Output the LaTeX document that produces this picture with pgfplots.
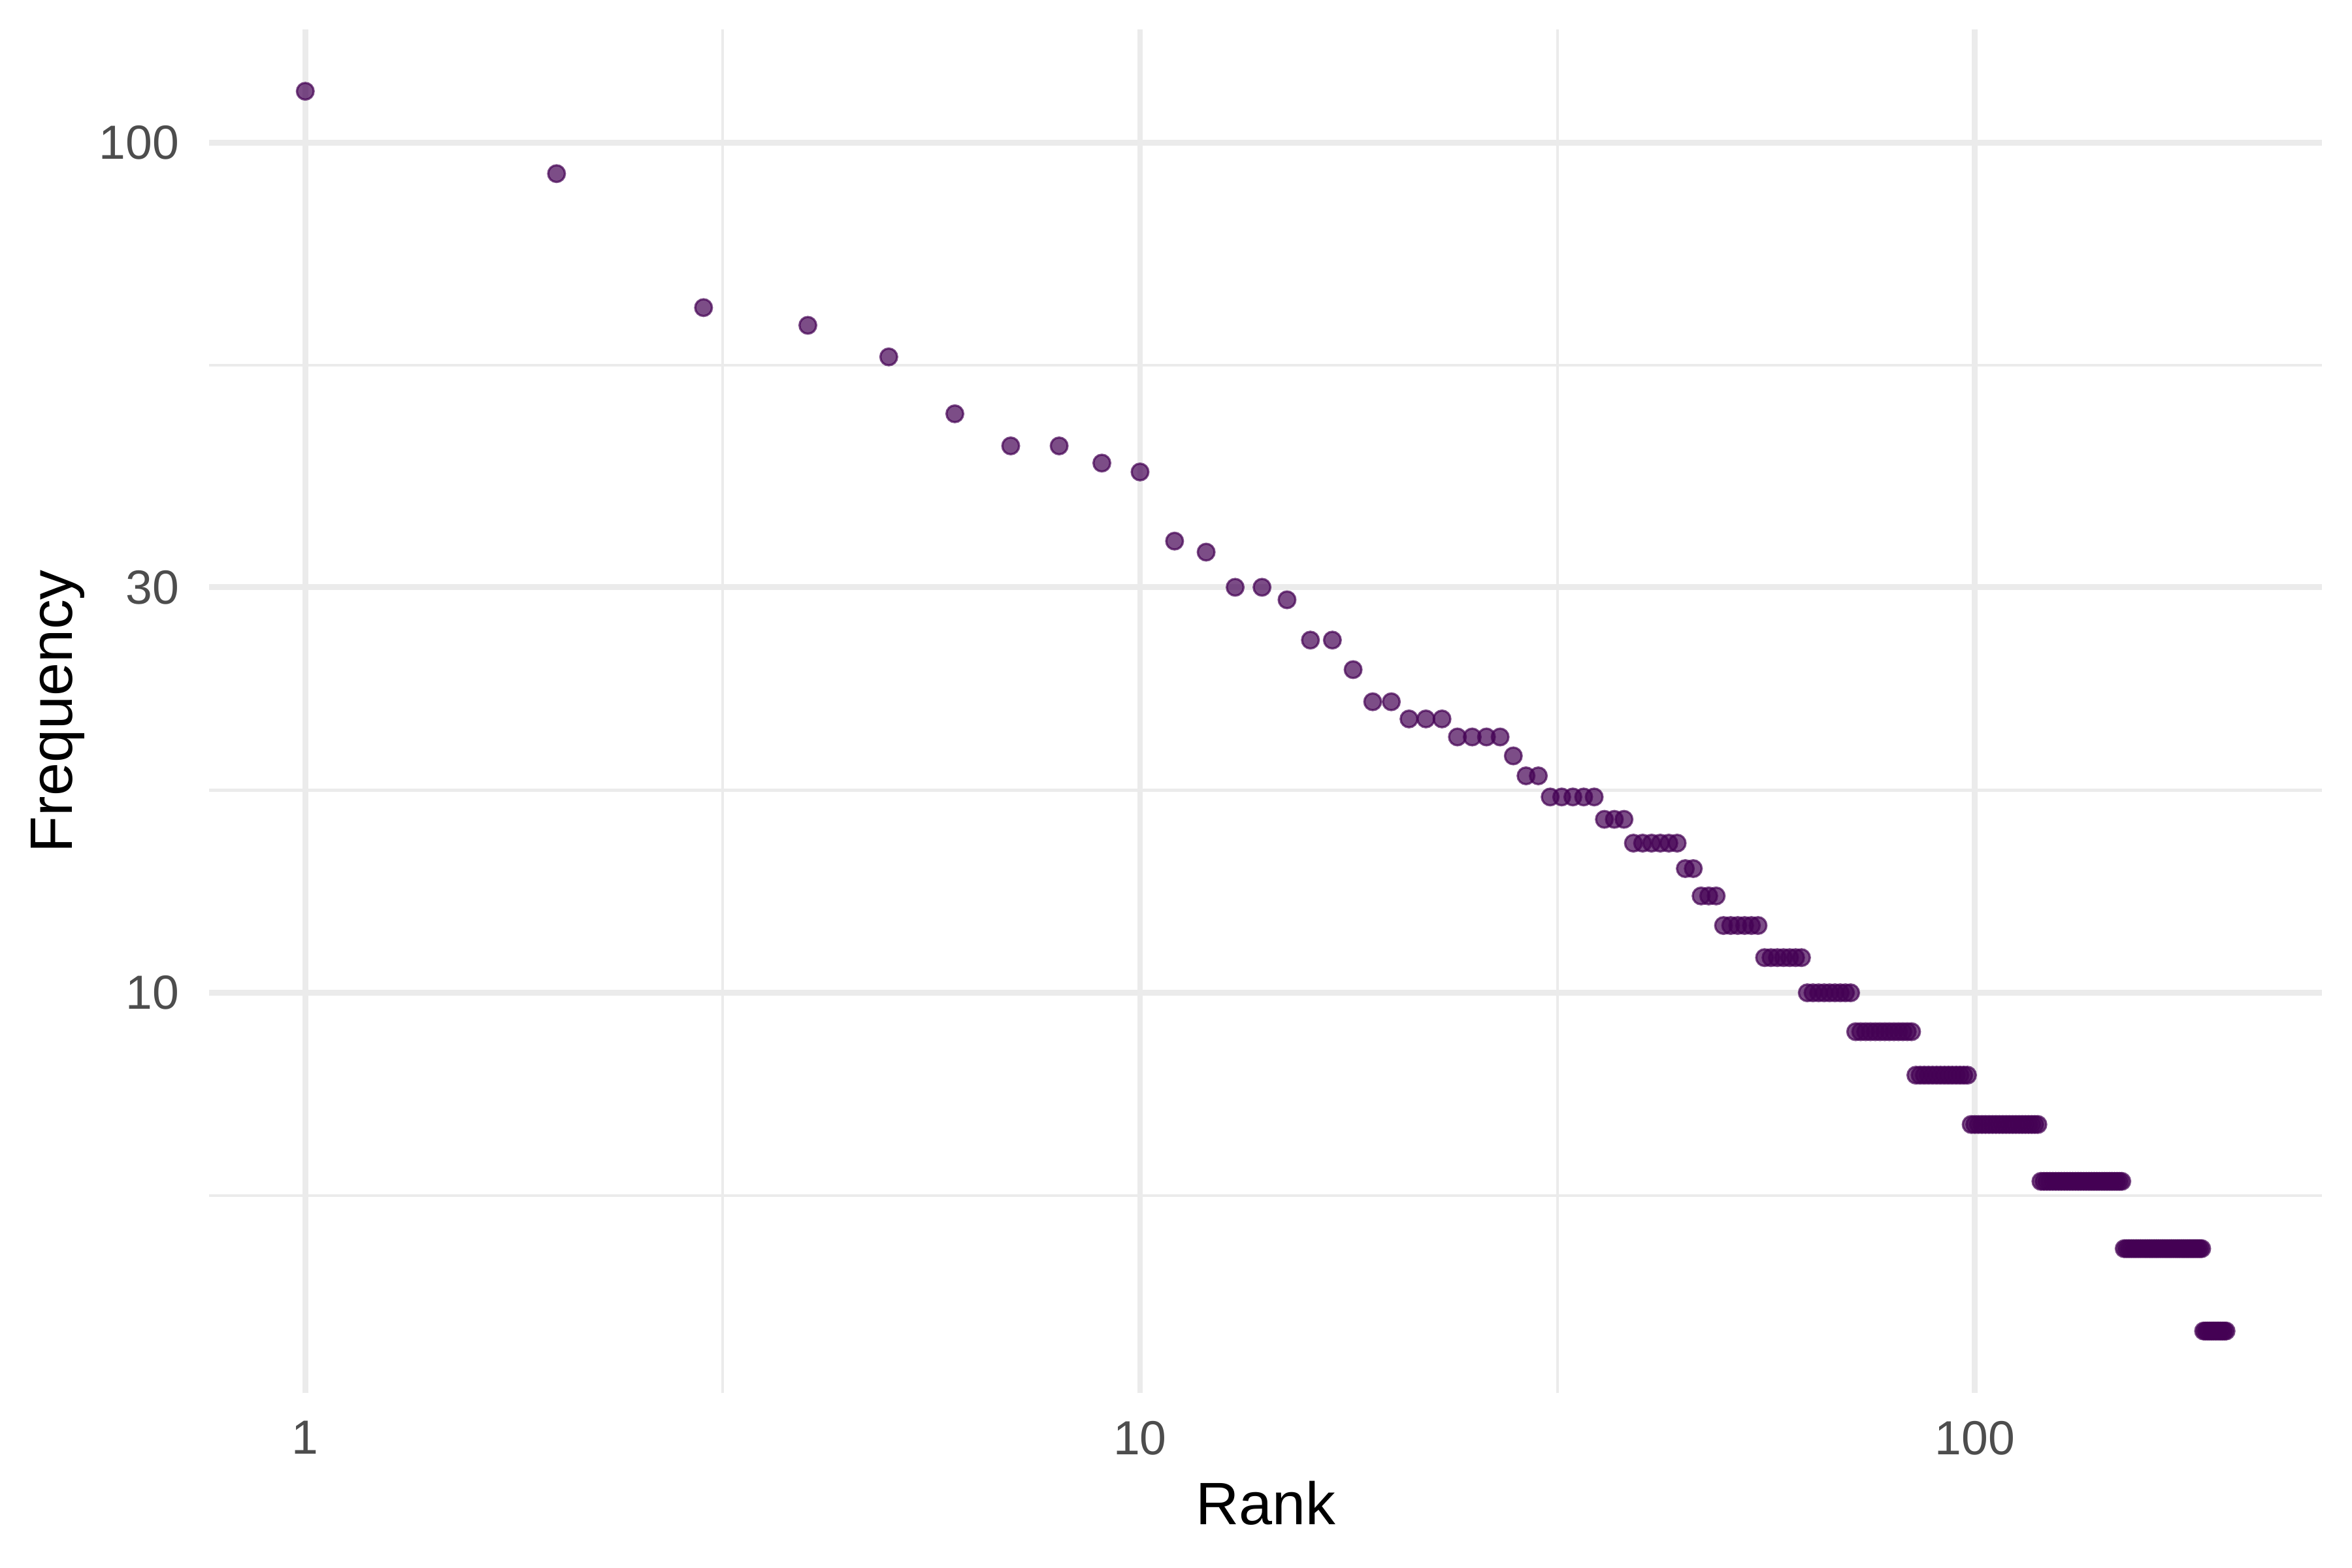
\documentclass[border=0pt]{standalone}
\usepackage{fontspec}
\setmainfont{Liberation Sans}
\usepackage{pgfplots}
\pgfplotsset{compat=1.18}

\definecolor{pointcol}{HTML}{440154}
\definecolor{gridcol}{HTML}{EBEBEB}
\definecolor{tickcol}{HTML}{4D4D4D}

\begin{document}
\begin{tikzpicture}
\useasboundingbox (0,0) rectangle (432pt,288pt);
\begin{axis}[
    at={(38.4pt,32.1pt)}, anchor=south west,
    scale only axis,
    width=388.1pt, height=250.5pt,
    xmode=log, ymode=log,
    xmin=0.767, xmax=260.6,
    ymin=3.38, ymax=136,
    xtick={1,10,100}, xticklabels={1,10,100},
    ytick={10,30,100}, yticklabels={10,30,100},
    minor xtick={3.162,31.62},
    minor ytick={5.774,17.32,54.77},
    grid=both,
    major grid style={draw=gridcol, line width=1.07pt},
    minor grid style={draw=gridcol, line width=0.53pt},
    axis line style={draw=none},
    tick style={draw=none},
    /pgf/number format/assume math mode=true,
    ticklabel style={font=\fontsize{8.8}{10}\selectfont, text=tickcol, inner sep=0pt},
    xticklabel style={anchor=north, yshift=-4.9pt},
    yticklabel style={anchor=east, xshift=-5.3pt},
    xlabel={Rank}, ylabel={Frequency},
    label style={font=\fontsize{11}{13}\selectfont, text=black, inner sep=0pt},
    xlabel style={at={(axis description cs:0.5,-0.0962)}, anchor=base},
    ylabel style={at={(axis description cs:-0.0647,0.5)}, anchor=base},
    clip=false,
]
\addplot[only marks, mark=*, mark size=1.54pt,
    mark options={draw=pointcol, fill=pointcol, line width=0.4pt, opacity=0.7}]
coordinates {
(1,115) (2,92) (3,64) (4,61) (5,56) (6,48) (7,44) (8,44) (9,42) (10,41)
(11,34) (12,33) (13,30) (14,30) (15,29) (16,26) (17,26) (18,24) (19,22) (20,22)
(21,21) (22,21) (23,21) (24,20) (25,20) (26,20) (27,20) (28,19) (29,18) (30,18)
(31,17) (32,17) (33,17) (34,17) (35,17)
(36,16) (37,16) (38,16)
(39,15) (40,15) (41,15) (42,15) (43,15) (44,15)
(45,14) (46,14)
(47,13) (48,13) (49,13)
(50,12) (51,12) (52,12) (53,12) (54,12) (55,12)
(56,11) (57,11) (58,11) (59,11) (60,11) (61,11) (62,11)
(63,10) (64,10) (65,10) (66,10) (67,10) (68,10) (69,10) (70,10) (71,10)
(72,9) (73,9) (74,9) (75,9) (76,9) (77,9) (78,9) (79,9) (80,9) (81,9) (82,9) (83,9) (84,9)
(85,8) (86,8) (87,8) (88,8) (89,8) (90,8) (91,8) (92,8) (93,8) (94,8) (95,8) (96,8) (97,8) (98,8)
(99,7) (100,7) (101,7) (102,7) (103,7) (104,7) (105,7) (106,7) (107,7) (108,7) (109,7)
(110,7) (111,7) (112,7) (113,7) (114,7) (115,7) (116,7) (117,7) (118,7) (119,7)
(120,6) (121,6) (122,6) (123,6) (124,6) (125,6) (126,6) (127,6) (128,6) (129,6) (130,6)
(131,6) (132,6) (133,6) (134,6) (135,6) (136,6) (137,6) (138,6) (139,6) (140,6)
(141,6) (142,6) (143,6) (144,6) (145,6) (146,6) (147,6) (148,6) (149,6) (150,6)
(151,5) (152,5) (153,5) (154,5) (155,5) (156,5) (157,5) (158,5) (159,5) (160,5)
(161,5) (162,5) (163,5) (164,5) (165,5) (166,5) (167,5) (168,5) (169,5) (170,5)
(171,5) (172,5) (173,5) (174,5) (175,5) (176,5) (177,5) (178,5) (179,5) (180,5)
(181,5) (182,5) (183,5) (184,5) (185,5) (186,5) (187,5)
(188,4) (189,4) (190,4) (191,4) (192,4) (193,4) (194,4) (195,4) (196,4) (197,4)
(198,4) (199,4) (200,4)
};
\end{axis}
\end{tikzpicture}
\end{document}
